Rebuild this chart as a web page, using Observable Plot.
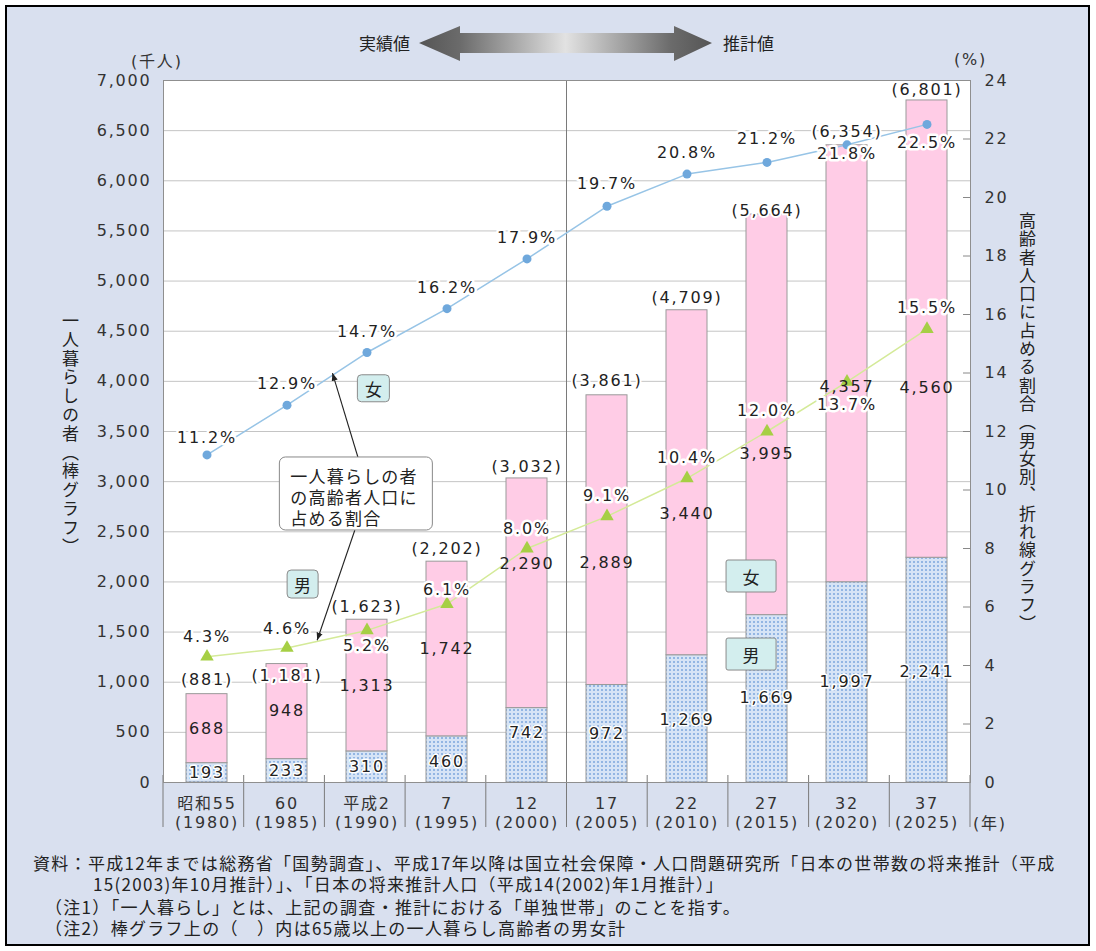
<!DOCTYPE html>
<html lang="ja">
<head>
<meta charset="utf-8">
<script src="https://cdn.jsdelivr.net/npm/d3@7"></script>
<script src="https://cdn.jsdelivr.net/npm/@observablehq/plot@0.6"></script>
<style>
  html, body { margin:0; padding:0; background:#fff; }
  #page { position:relative; width:1096px; height:951px; overflow:hidden; background:#fff; }
  #panel { position:absolute; left:5px; top:5px; width:1081px; height:937px; border:2px solid #000; background:#d9e0ef; }
  #chart { position:absolute; left:0; top:0; }
  #chart svg text { letter-spacing:1.8px; }
  .t { position:absolute; white-space:nowrap; color:#222; line-height:1; }
  .jp { font-family:"Noto Sans CJK JP", sans-serif; }
  .num { font-family:"DejaVu Sans", "Noto Sans CJK JP", sans-serif; letter-spacing:1.8px; font-size:16px; color:#333; }
  .vert { writing-mode:vertical-rl; }
  .note { font-family:"Noto Sans CJK JP", sans-serif; font-size:17px; letter-spacing:1.3px; color:#222; }
</style>
</head>
<body>
<div id="page">
  <div id="panel"></div>
  <svg style="position:absolute;left:0;top:0" width="1096" height="80">
    <defs>
      <linearGradient id="hdrGrad" gradientUnits="userSpaceOnUse" x1="419" x2="712" y1="0" y2="0">
        <stop offset="0" stop-color="#555"/>
        <stop offset="0.14" stop-color="#6b6b6b"/>
        <stop offset="0.5" stop-color="#e2e2e2"/>
        <stop offset="0.86" stop-color="#6b6b6b"/>
        <stop offset="1" stop-color="#555"/>
      </linearGradient>
    </defs>
    <path d="M419,43 L460,26 L460,33 L674,33 L674,26 L712,43 L674,61 L674,53 L460,53 L460,61 Z" fill="url(#hdrGrad)"/>
  </svg>
  <div class="t jp" style="right:686px; top:34px; font-size:17px;">実績値</div>
  <div class="t jp" style="left:723px; top:34px; font-size:17px;">推計値</div>
  <div id="chart"></div>
  <div class="t num" style="left:131px; top:52px;">(<span class="jp">千人</span>)</div>
  <div class="t num" style="left:954px; top:52px;">(%)</div>
  <div class="t num" style="left:973px; top:814px;">(<span class="jp">年</span>)</div>
  <div class="t jp vert" style="left:62px; top:312px; font-size:17px; letter-spacing:1.8px;">一人暮らしの者（棒グラフ）</div>
  <div class="t jp vert" style="left:1019px; top:212px; font-size:17px; letter-spacing:1.3px;">高齢者人口に占める割合（男女別、折れ線グラフ）</div>
  <div class="t note" style="left:33px; top:854px;">資料：平成12年までは総務省「国勢調査」、平成17年以降は国立社会保障・人口問題研究所「日本の世帯数の将来推計（平成</div>
  <div class="t note" style="left:93px; top:875px;">15(2003)年10月推計）」、「日本の将来推計人口（平成14(2002)年1月推計）」</div>
  <div class="t note" style="left:45px; top:898px;">（注1）「一人暮らし」とは、上記の調査・推計における「単独世帯」のことを指す。</div>
  <div class="t note" style="left:45px; top:919px;">（注2）棒グラフ上の（　）内は65歳以上の一人暮らし高齢者の男女計</div>
</div>
<script>
// ---- data ----
const categories = ["昭和55", "60", "平成2", "7", "12", "17", "22", "27", "32", "37"];
const years = ["1980", "1985", "1990", "1995", "2000", "2005", "2010", "2015", "2020", "2025"];
const male = [193, 233, 310, 460, 742, 972, 1269, 1669, 1997, 2241];
const female = [688, 948, 1313, 1742, 2290, 2889, 3440, 3995, 4357, 4560];
const total = [881, 1181, 1623, 2202, 3032, 3861, 4709, 5664, 6354, 6801];
const femalePct = [11.2, 12.9, 14.7, 16.2, 17.9, 19.7, 20.8, 21.2, 21.8, 22.5];
const malePct = [4.3, 4.6, 5.2, 6.1, 8.0, 9.1, 10.4, 12.0, 13.7, 15.5];
const leftTicks = d3.range(0, 7001, 500);
const rightTicks = d3.range(0, 25, 2);
const forecastStart = 5; // first projected category (平成17)
const calloutLines = ["一人暮らしの者", "の高齢者人口に", "占める割合"];

// ---- layout (label nudges in pixels, not data) ----
const totalDy = [-14, 12, -13, -13, -12, -14, -12, -4, -13, -11];
const femaleDy = [0, -1, 0, 0, -29, 23, 31, 39, 23, 59];
const maleDy = [0, 0, 0, 2, -12, 0, 1, -1, 0, 2];
const femalePctDy = [-17, -21, -21, -21, -21, -22, -21, -24, 9, 18];
const malePctDy = [-20, -19, 15, -14, -20, -20, -20, -21, 23, -21];

const W = 1096, H = 840, ML = 163, MR = 126, MT = 80, MB = 58;
const yMax = 7000, pctMax = 24;
const pctToCount = yMax / pctMax;
const ppu = (H - MT - MB) / yMax;
const fmt = d3.format(",");

const rows = categories.map((cat, i) => ({
  i, cat, year: years[i], male: male[i], female: female[i], total: total[i],
  femalePct: femalePct[i], malePct: malePct[i]
}));

function decorBack(index, scales, values, dims) {
  const {width, height, marginLeft: ml, marginRight: mr, marginTop: mt, marginBottom: mb} = dims;
  const step = (width - ml - mr) / categories.length;
  const bottom = height - mb;
  const g = d3.create("svg:g");
  for (let i = 0; i <= categories.length; i++) {
    const x = ml + step * i;
    g.append("line").attr("x1", x).attr("x2", x).attr("y1", bottom - 7).attr("y2", bottom + 45)
      .attr("stroke", "#7a7a7a");
  }
  const xd = ml + step * forecastStart;
  g.append("line").attr("x1", xd).attr("x2", xd).attr("y1", mt).attr("y2", bottom).attr("stroke", "#7a7a7a");
  return g.node();
}

function decorFront(index, scales, values, dims) {
  const {width, marginLeft: ml, marginRight: mr} = dims;
  const y = scales.y;
  const step = (width - ml - mr) / categories.length;
  const cx = (i, f = 0) => ml + step * (i + 0.5 + f);
  const lerp = (a, b, t) => a + (b - a) * t;
  const pctY = p => y(p * pctToCount);
  const g = d3.create("svg:g");

  const bx = cx(1, 0.89), by = y(2877), bw = 153, bh = 73;
  const tip1 = [cx(1, 0.6), lerp(pctY(femalePct[1]), pctY(femalePct[2]), 0.6)];
  const tip2 = [cx(1, 0.41), lerp(pctY(malePct[1]), pctY(malePct[2]), 0.41)];
  g.append("line").attr("x1", bx + 2).attr("y1", by - bh / 2).attr("x2", tip1[0]).attr("y2", tip1[1])
    .attr("stroke", "#222").attr("stroke-width", 1.1).attr("marker-end", "url(#calloutHead)");
  g.append("line").attr("x1", bx - 1).attr("y1", by + bh / 2).attr("x2", tip2[0]).attr("y2", tip2[1])
    .attr("stroke", "#222").attr("stroke-width", 1.1).attr("marker-end", "url(#calloutHead)");
  g.append("rect").attr("x", bx - bw / 2).attr("y", by - bh / 2).attr("width", bw).attr("height", bh)
    .attr("rx", 6).attr("fill", "white").attr("stroke", "#888");
  calloutLines.forEach((line, k) => {
    g.append("text").attr("x", bx - bw / 2 + 11).attr("y", by - bh / 2 + 19 + 21 * k)
      .attr("text-anchor", "start")
      .attr("dominant-baseline", "central").attr("fill", "#222")
      .attr("style", "font-family:'Noto Sans CJK JP',sans-serif;font-size:17px;letter-spacing:1.2px")
      .text(line);
  });

  const boxes = [
    {label: "女", x: cx(2, 0.107), y: y(3926), w: 32, h: 27, rx: 4},
    {label: "男", x: cx(1, 0.23), y: y(1974), w: 31, h: 28, rx: 4},
    {label: "女", x: cx(7, -0.213), y: y(2054), w: 50, h: 32, rx: 2},
    {label: "男", x: cx(7, -0.213), y: y(1276), w: 50, h: 32, rx: 2}
  ];
  for (const b of boxes) {
    g.append("rect").attr("x", b.x - b.w / 2).attr("y", b.y - b.h / 2).attr("width", b.w).attr("height", b.h)
      .attr("rx", b.rx).attr("fill", "#d3eeee").attr("stroke", "#8a8a8a");
    g.append("text").attr("x", b.x).attr("y", b.y).attr("text-anchor", "middle")
      .attr("dominant-baseline", "central").attr("fill", "#222")
      .attr("style", "font-family:'Noto Sans CJK JP',sans-serif;font-size:17px;letter-spacing:0")
      .text(b.label);
  }
  return g.node();
}

const chart = Plot.plot({
  width: W, height: H,
  marginLeft: ML, marginRight: MR, marginTop: MT, marginBottom: MB,
  style: {
    background: "transparent",
    fontFamily: '"DejaVu Sans", "Noto Sans CJK JP", sans-serif',
    fontSize: "16px",
    color: "#333",
    overflow: "visible"
  },
  x: {type: "band", domain: categories, paddingInner: 0.49, paddingOuter: 0.245, axis: null},
  y: {domain: [0, yMax], axis: null},
  marks: [
    Plot.frame({fill: "white", stroke: null}),
    Plot.gridY(leftTicks.filter(v => v > 0 && v < yMax), {stroke: "#c4c4c4", strokeOpacity: 1}),
    Plot.ruleY(rightTicks.map(k => k * pctToCount), {insetLeft: (W - ML - MR) - 7, stroke: "#888"}),
    Plot.barY(rows, {x: "cat", y1: 0, y2: "male", fill: "url(#maleDots)", stroke: "#9a9a9a", strokeWidth: 1}),
    Plot.barY(rows, {x: "cat", y1: "male", y2: "total", fill: "#ffcce6", stroke: "#9a9a9a", strokeWidth: 1}),
    decorBack,
    Plot.line(rows, {x: "cat", y: d => d.femalePct * pctToCount, stroke: "#97c4e6", strokeWidth: 1.5}),
    Plot.line(rows, {x: "cat", y: d => d.malePct * pctToCount, stroke: "#d4ea98", strokeWidth: 1.5}),
    Plot.dot(rows, {x: "cat", y: d => d.femalePct * pctToCount, r: 4.5, fill: "#6fa8dc"}),
    Plot.dot(rows, {x: "cat", y: d => d.malePct * pctToCount, r: 5, symbol: "triangle", fill: "#a6cf45"}),
    // total labels
    Plot.text(rows, {x: "cat", y: d => d.total - totalDy[d.i] / ppu, text: d => `(${fmt(d.total)})`,
      fill: "#222", stroke: "white", strokeWidth: 4, fontSize: 16}),
    // female value labels
    Plot.text(rows, {x: "cat", y: d => d.male + d.female / 2 - femaleDy[d.i] / ppu, text: d => fmt(d.female),
      fill: "#222", fontSize: 16}),
    // male value labels
    Plot.text(rows, {x: "cat", y: d => d.male / 2 - maleDy[d.i] / ppu, text: d => fmt(d.male),
      fill: "#222", stroke: "white", strokeWidth: 3, fontSize: 16}),
    // percentage labels
    Plot.text(rows, {x: "cat", y: d => d.femalePct * pctToCount - femalePctDy[d.i] / ppu,
      text: d => `${d.femalePct.toFixed(1)}%`, fill: "#222", stroke: "white", strokeWidth: 5, fontSize: 16}),
    Plot.text(rows, {x: "cat", y: d => d.malePct * pctToCount - malePctDy[d.i] / ppu,
      text: d => `${d.malePct.toFixed(1)}%`, fill: "#222", stroke: "white", strokeWidth: 5, fontSize: 16}),
    decorFront,
    Plot.axisY(leftTicks, {anchor: "left", tickSize: 0, tickPadding: 12, tickFormat: fmt, label: null}),
    Plot.axisY(rightTicks.map(k => k * pctToCount), {anchor: "right", tickSize: 0, tickPadding: 14,
      tickFormat: d => String(Math.round(d / pctToCount)), label: null}),
    Plot.text(rows, {x: "cat", frameAnchor: "bottom", dy: 13, lineAnchor: "top", lineHeight: 1.19,
      text: d => `${d.cat}\n(${d.year})`, fill: "#333", fontSize: 16}),
    Plot.frame({stroke: "#8f8f8f"})
  ]
});

d3.select(chart).insert("defs", ":first-child").html(`
  <pattern id="maleDots" width="4" height="4" patternUnits="userSpaceOnUse">
    <rect width="4" height="4" fill="#d6e4f6"/>
    <rect x="1" y="1" width="2" height="2" fill="#93b6e3"/>
  </pattern>
  <marker id="calloutHead" viewBox="0 0 10 10" refX="10" refY="5" markerWidth="7" markerHeight="7" orient="auto">
    <path d="M0,1 L10,5 L0,9 Z" fill="#222"/>
  </marker>`);

document.getElementById("chart").appendChild(chart);
</script>
</body>
</html>
